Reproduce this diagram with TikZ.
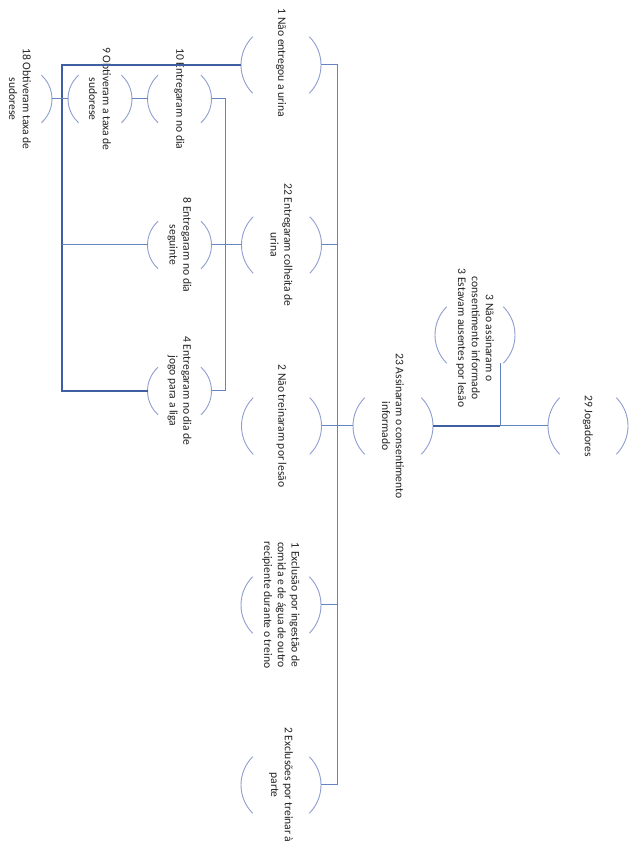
\documentclass[tikz,border=0pt]{standalone}
\usepackage{fontspec}
\setmainfont{Carlito}
\definecolor{arccol}{HTML}{8E9ED0}
\definecolor{lncol}{HTML}{6584C2}
\definecolor{lndcol}{HTML}{3F5FA3}
\definecolor{txtcol}{HTML}{222222}
\newcommand{\bubarcs}[3]{%
  \draw[arcc] (#1.{180-#3}) arc[start angle={180-#3}, end angle={180+#3}, radius=#2];
  \draw[arcc] (#1.{-#3}) arc[start angle={-#3}, end angle={#3}, radius=#2];
}
\begin{document}
\begin{tikzpicture}[x=1pt,y=1pt,
  big/.style={circle, inner sep=0pt, outer sep=0pt, minimum size=80pt},
  small/.style={circle, inner sep=0pt, outer sep=0pt, minimum size=64pt},
  txt/.style={rotate=-90, align=center, text=txtcol, inner sep=0pt,
    font=\fontsize{11.6}{13.8}\selectfont},
  arcc/.style={draw=arccol, line width=0.9pt},
  ln/.style={draw=lncol, line width=1.0pt},
  lnd/.style={draw=lndcol, line width=1.5pt}]
\useasboundingbox (0,0) rectangle (629,850);

% bubbles
\node[big] (n29) at (588,424) {};
\node[big] (n3) at (475,515) {};
\node[big] (n23) at (393,424) {};
\node[big] (n1) at (281,785) {};
\node[big] (n22) at (281.5,605) {};
\node[big] (n2t) at (281.5,424) {};
\node[big] (nex1) at (281,245) {};
\node[big] (nex2) at (281,65) {};
\node[small] (n10) at (179.5,751) {};
\node[small] (n9) at (100,751) {};
\node[small] (n18) at (20,751) {};
\node[small] (n8) at (179.5,605) {};
\node[small] (n4) at (179.5,459) {};

\foreach \n in {n29,n3,n23,n1,n22,n2t,nex1,nex2} {\bubarcs{\n}{40}{45}}
\foreach \n in {n10,n9,n18,n8,n4} {\bubarcs{\n}{32}{48}}

% texts
\node[txt] (t29) at (n29) {29 Jogadores};
\node[txt] (t3) at ([yshift=-3pt]n3) {3 Não assinaram o\\consentimento informado\\3 Estavam ausentes por lesão};
\node[txt] (t23) at (n23) {23 Assinaram o consentimento\\informado};
\node[txt] (t1) at ([yshift=2pt]n1) {1 Não entregou a urina};
\node[txt] (t22) at (n22) {22 Entregaram colheita de\\urina};
\node[txt] (t2t) at (n2t) {2 Não treinaram por lesão};
\node[txt] (tex1) at (nex1) {1 Exclusão por ingestão de\\comida e de água de outro\\recipiente durante o treino};
\node[txt] (tex2) at (nex2) {2 Exclusões por treinar à\\parte};
\node[txt] (t10) at (n10) {10 Entregaram no dia};
\node[txt] (t9) at (n9) {9 Obtiveram a taxa de\\sudorese};
\node[txt] (t18) at (n18) {18 Obtiveram taxa de\\sudorese};
\node[txt] (t8) at (n8) {8 Entregaram no dia\\seguinte};
\node[txt] (t4) at (n4) {4 Entregaram no dia de\\jogo para a liga};

% connectors
\coordinate (j3) at (500,424);
\coordinate (tTop) at (337,785);
\coordinate (tBot) at (337,65);
\coordinate (L) at (62,785);
\coordinate (R) at (225,751);

\draw[ln] (n29.west) -- (j3);
\draw[lnd] (j3) -- (n23.east);
\draw[ln] (j3) -- (j3 |- n3.-44);
\draw[ln] (n23.west) -- (n2t.east);
\draw[ln] (n1.east) -- (tTop) -- (tBot) -- (nex2.east);
\draw[ln] (n22.east) -- (n22.east -| tTop);
\draw[ln] (nex1.east) -- (nex1.east -| tTop);

\draw[lnd] (n1.west) -- (L) -- (L |- n4.west) -- (n4.west);
\draw[ln] (n8.west) -- (n8.west -| L);
\draw[ln] (n10.east) -- (R) -- (R |- n4.east) -- (n4.east);
\draw[ln] (n8.east) -- (n22.west);
\draw[ln] (n10.west) -- (n9.east);
\draw[ln] (n9.west) -- (n18.east);
\end{tikzpicture}
\end{document}
